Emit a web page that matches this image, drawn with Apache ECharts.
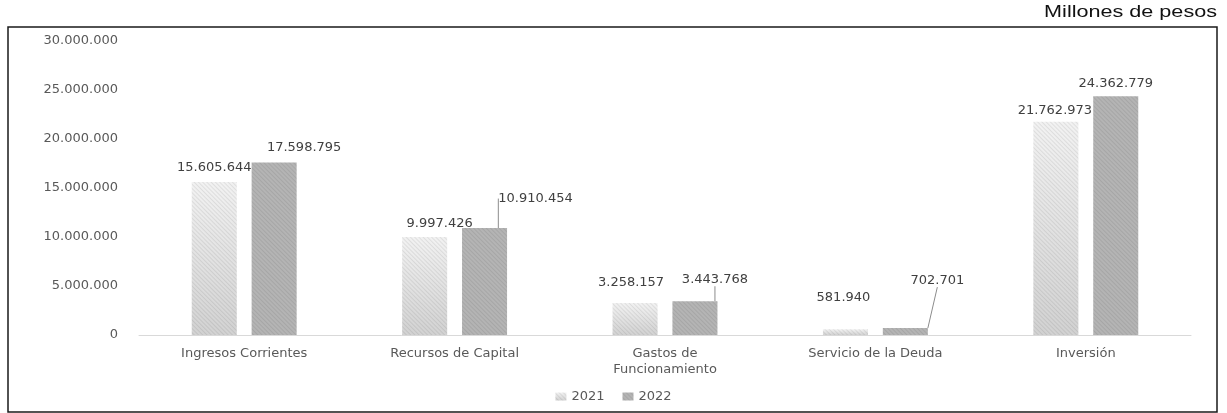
<!DOCTYPE html>
<html>
<head>
<meta charset="utf-8">
<script src="https://cdn.jsdelivr.net/npm/echarts@6/dist/echarts.min.js"></script>
<style>
  html, body { margin: 0; padding: 0; background: #fff; }
  #chart { width: 1227px; height: 413px; }
</style>
</head>
<body>
<div id="chart"></div>
<script>
const categories = ["Ingresos Corrientes", "Recursos de Capital", "Gastos de\nFuncionamiento", "Servicio de la Deuda", "Inversión"];
const values2021 = [15605644, 9997426, 3258157, 581940, 21762973];
const values2022 = [17598795, 10910454, 3443768, 702701, 24362779];
const yTicks = [0, 5000000, 10000000, 15000000, 20000000, 25000000, 30000000];

// label nudges
const shift2021 = [[0, -3], [15, -2], [-4, -9], [-2, -20], [-1, 0]];
const shift2022 = [[30, -3], [51, -18], [20, -10], [32, -36], [0, -1]];
const withLine2022 = [false, true, true, true, false];

const font = "DejaVu Sans";

function fmt(v) {
  return String(v).replace(/\B(?=(\d{3})+(?!\d))/g, ".");
}

// fine diagonal hatch like the scanned bars
const hatch = {
  symbol: "rect",
  symbolSize: 1,
  dashArrayX: [1, 0],
  dashArrayY: [1, 2],
  rotation: Math.PI / 4,
  color: "rgba(0,0,0,0.08)"
};

const chart = echarts.init(document.getElementById("chart"));

const option = {
  animation: false,
  textStyle: { fontFamily: font },
  grid: { left: 139, right: 36, top: 41, bottom: 78 },
  legend: {
    bottom: 5,
    left: "center",
    icon: "rect",
    itemWidth: 11,
    itemHeight: 8,
    itemGap: 18,
    textStyle: { fontFamily: font, fontSize: 13, color: "#595959" },
    data: ["2021", "2022"]
  },
  xAxis: {
    type: "category",
    data: categories,
    axisTick: { show: false },
    axisLine: { lineStyle: { color: "#d9d9d9", width: 1 } },
    axisLabel: {
      margin: 11,
      fontFamily: font,
      fontSize: 13,
      lineHeight: 16,
      color: "#595959",
      interval: 0
    }
  },
  yAxis: {
    type: "value",
    min: yTicks[0],
    max: yTicks[yTicks.length - 1],
    interval: yTicks[1] - yTicks[0],
    splitLine: { show: false },
    axisLine: { show: false },
    axisTick: { show: false },
    axisLabel: {
      margin: 21,
      fontFamily: font,
      fontSize: 13,
      color: "#595959",
      formatter: fmt
    }
  },
  series: [
    {
      name: "2021",
      type: "bar",
      barWidth: "21.4%",
      barGap: "33%",
      data: values2021,
      itemStyle: {
        color: new echarts.graphic.LinearGradient(0, 0, 0, 1, [
          { offset: 0, color: "#f2f2f2" },
          { offset: 1, color: "#d2d2d2" }
        ]),
        decal: hatch
      },
      label: {
        show: true,
        position: "top",
        distance: 5,
        fontFamily: font,
        fontSize: 13,
        color: "#404040",
        formatter: (p) => fmt(p.value)
      },
      labelLayout: (p) => ({ dx: shift2021[p.dataIndex][0], dy: shift2021[p.dataIndex][1] })
    },
    {
      name: "2022",
      type: "bar",
      barWidth: "21.4%",
      data: values2022.map((v, i) => ({ value: v, labelLine: { show: withLine2022[i] } })),
      itemStyle: { color: "#b4b4b4", decal: hatch },
      label: {
        show: true,
        position: "top",
        distance: 5,
        fontFamily: font,
        fontSize: 13,
        color: "#404040",
        formatter: (p) => fmt(p.value)
      },
      labelLine: { lineStyle: { color: "#8c8c8c", width: 1 } },
      labelLayout: (p) => ({ dx: shift2022[p.dataIndex][0], dy: shift2022[p.dataIndex][1] })
    }
  ],
  graphic: [
    {
      type: "rect",
      shape: { x: 8, y: 27, width: 1209, height: 385 },
      style: { fill: "none", stroke: "#1a1a1a", lineWidth: 1.5 },
      silent: true
    },
    {
      type: "text",
      x: 1217,
      y: 13,
      scaleX: 1.35,
      style: {
        text: "Millones de pesos",
        x: 0,
        y: 0,
        align: "right",
        verticalAlign: "middle",
        font: "16px 'Liberation Sans'",
        fill: "#111"
      },
      silent: true
    }
  ]
};

chart.setOption(option);
</script>
</body>
</html>
